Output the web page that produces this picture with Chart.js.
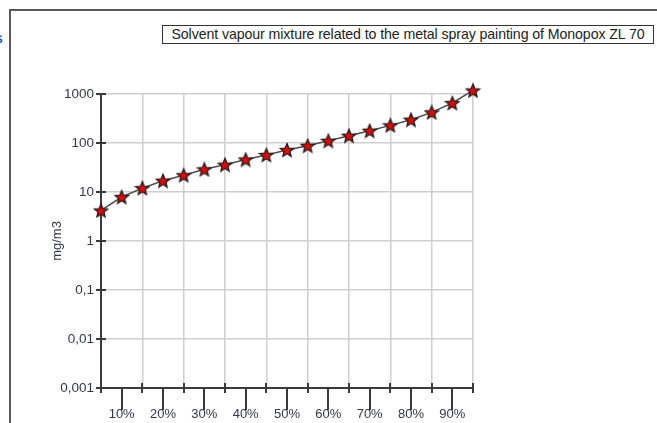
<!DOCTYPE html>
<html lang="en">
<head>
    <meta charset="UTF-8">
    <title>Monopox ZL 70</title>
    <script src="https://cdn.jsdelivr.net/npm/chart.js"></script>
    <style>
        html, body {
            margin: 0;
            padding: 0;
            background: #fff;
            overflow: hidden;
        }
        #wrap {
            position: relative;
            width: 657px;
            height: 423px;
        }
        #frame {
            position: absolute;
            left: 9px;
            top: 9px;
            right: -10px;
            bottom: -10px;
            border-left: 2px solid #5a5a5a;
            border-top: 2px solid #5a5a5a;
        }
        #edge {
            position: absolute;
            left: -5px;
            top: 30px;
            font: bold 14px "Liberation Sans", Arial, sans-serif;
            color: #1f5fbf;
        }
        #title {
            position: absolute;
            left: 162px;
            top: 25px;
            width: 490px;
            height: 17px;
            border: 1px solid #333;
            font: 14.2px "Liberation Sans", Arial, sans-serif;
            line-height: 17px;
            color: #222;
            white-space: nowrap;
            text-align: center;
            letter-spacing: -0.1px;
        }
        canvas {
            position: absolute;
            left: 0;
            top: 0;
        }
    </style>
</head>
<body>
<div id="wrap">
    <div id="frame"></div>
    <div id="edge">s</div>
    <div id="title">Solvent vapour mixture related to the metal spray painting of Monopox ZL 70</div>
    <canvas id="chart" width="657" height="423"></canvas>
</div>

<script>
    // fraction of the mixture (%) and measured concentration (mg/m3)
    const percents = [5, 10, 15, 20, 25, 30, 35, 40, 45, 50, 55, 60, 65, 70, 75, 80, 85, 90, 95];
    const concentrations = [4.2, 7.9, 12, 17, 22, 29, 36, 46, 57, 72, 88, 111, 141, 178, 229, 299, 422, 655, 1180];
    const gridPercents = [5, 15, 25, 35, 45, 55, 65, 75, 85, 95];
    const labelPercents = [10, 20, 30, 40, 50, 60, 70, 80, 90];
    const decades = [0.001, 0.01, 0.1, 1, 10, 100, 1000];

    const textColor = '#36364a';
    const axisColor = '#3a3a3a';
    const gridColor = '#cfcfcf';
    const fontFamily = '"Liberation Sans", Arial, sans-serif';

    // filled five-pointed star used as the point marker
    function makeStar(size) {
        const c = document.createElement('canvas');
        c.width = size;
        c.height = size;
        const g = c.getContext('2d');
        const cx = size / 2, cy = size / 2 + 0.6;
        const outer = size / 2 - 1, inner = outer * 0.45;
        g.beginPath();
        for (let i = 0; i < 10; i++) {
            const r = i % 2 === 0 ? outer : inner;
            const a = -Math.PI / 2 + i * Math.PI / 5;
            g.lineTo(cx + r * Math.cos(a), cy + r * Math.sin(a));
        }
        g.closePath();
        g.fillStyle = '#d10f0f';
        g.fill();
        g.lineWidth = 1.3;
        g.strokeStyle = '#2e1a1a';
        g.stroke();
        return c;
    }

    // axis tick marks: short ones crossing both axes, long ones down to the % labels
    const axisTicks = {
        id: 'axisTicks',
        afterDraw(chart) {
            const ctx = chart.ctx;
            const xs = chart.scales.x, ys = chart.scales.y;
            const left = ys.right, bottom = xs.top;
            ctx.save();
            ctx.strokeStyle = axisColor;
            ctx.lineWidth = 2;
            ctx.lineCap = 'butt';
            decades.forEach(v => {
                const y = Math.round(ys.getPixelForValue(v));
                ctx.beginPath();
                ctx.moveTo(left - 5, y);
                ctx.lineTo(left + 5, y);
                ctx.stroke();
            });
            gridPercents.forEach(v => {
                const x = Math.round(xs.getPixelForValue(v));
                ctx.beginPath();
                ctx.moveTo(x, bottom - 5);
                ctx.lineTo(x, bottom + 5);
                ctx.stroke();
            });
            labelPercents.forEach(v => {
                const x = Math.round(xs.getPixelForValue(v));
                ctx.fillStyle = axisColor;
                ctx.fillRect(x - 1, bottom, 2, 22);
            });
            ctx.restore();
        }
    };

    const ctx = document.getElementById('chart').getContext('2d');

    new Chart(ctx, {
        type: 'line',
        data: {
            datasets: [{
                data: percents.map((p, i) => ({ x: p, y: concentrations[i] })),
                borderColor: '#4d4d4d',
                borderWidth: 1.5,
                pointStyle: makeStar(16),
                pointRadius: 8,
                pointHoverRadius: 8,
                tension: 0,
                clip: false,
            }],
        },
        options: {
            responsive: false,
            animation: false,
            events: [],
            layout: {
                padding: { top: 94, right: 184, bottom: 0, left: 50 },
            },
            plugins: {
                legend: { display: false },
                tooltip: { enabled: false },
            },
            scales: {
                x: {
                    type: 'linear',
                    min: 5,
                    max: 95,
                    afterBuildTicks: scale => {
                        scale.ticks = percents.map(v => ({ value: v }));
                    },
                    afterFit: scale => { scale.height = 35; },
                    grid: {
                        drawTicks: false,
                        lineWidth: 1.5,
                        color: c => (c.tick && c.tick.value % 10 === 5) ? gridColor : 'rgba(0,0,0,0)',
                    },
                    border: { color: axisColor, width: 2 },
                    ticks: {
                        autoSkip: false,
                        maxRotation: 0,
                        padding: 19,
                        color: textColor,
                        font: { family: fontFamily, size: 13 },
                        callback: v => v % 10 === 0 ? v + '%' : '',
                    },
                },
                y: {
                    type: 'logarithmic',
                    min: 0.001,
                    max: 1000,
                    afterBuildTicks: scale => {
                        scale.ticks = decades.map(v => ({ value: v }));
                    },
                    afterFit: scale => { scale.width = 51; },
                    grid: {
                        drawTicks: false,
                        lineWidth: 1.5,
                        color: gridColor,
                    },
                    border: { color: axisColor, width: 2 },
                    title: {
                        display: true,
                        text: 'mg/m3',
                        color: textColor,
                        padding: 0,
                        font: { family: fontFamily, size: 13 },
                    },
                    ticks: {
                        padding: 7,
                        color: textColor,
                        font: { family: fontFamily, size: 13.5 },
                        callback: v => String(v).replace('.', ','),
                    },
                },
            },
        },
        plugins: [axisTicks],
    });
</script>
</body>
</html>
